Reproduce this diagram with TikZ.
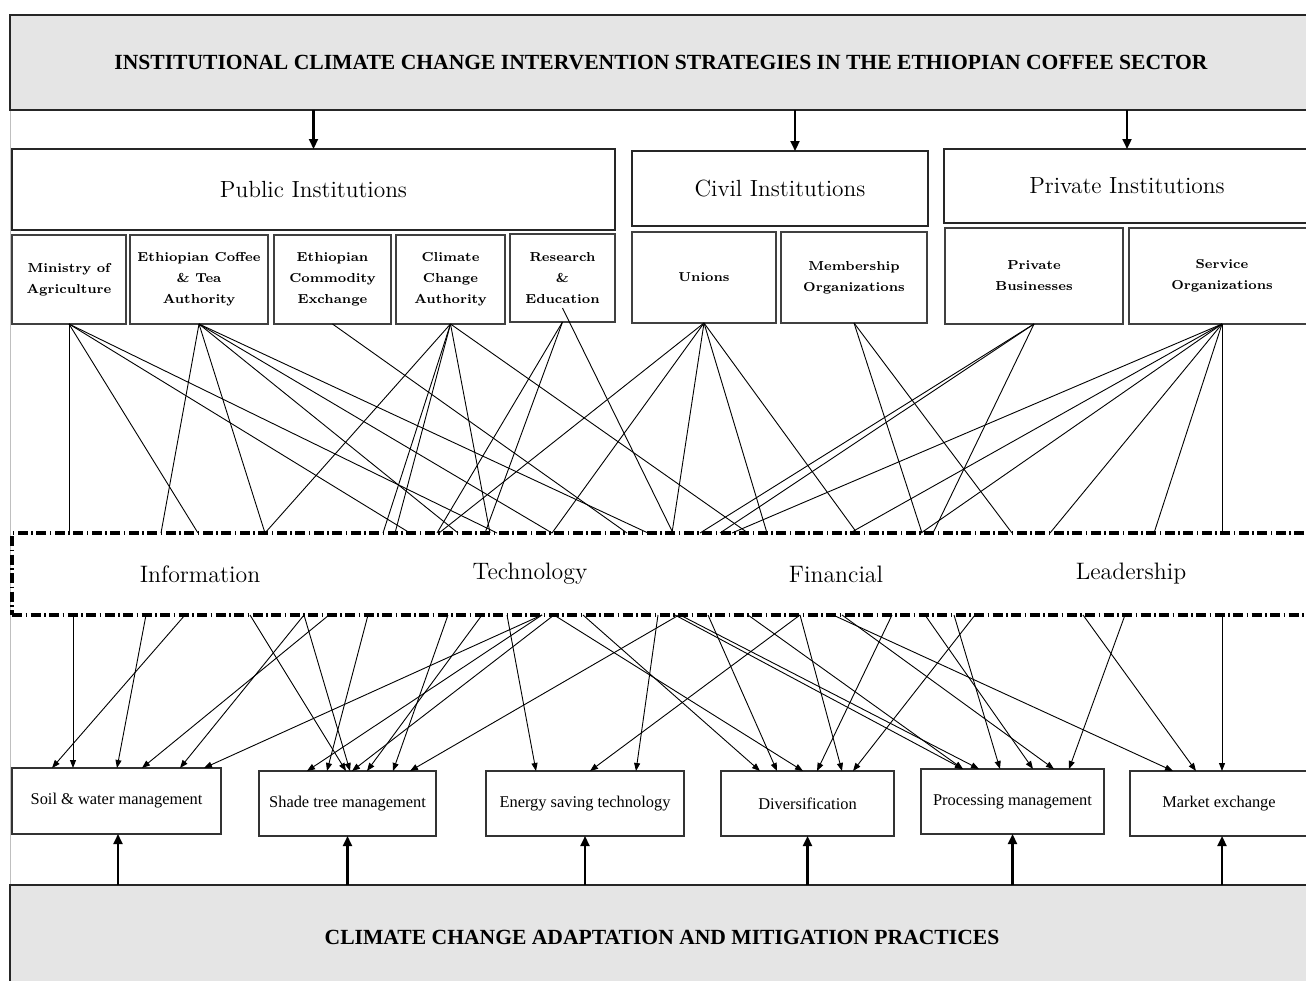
\documentclass[tikz,border=0pt]{standalone}
\usepackage{fontspec}
\newfontfamily\timesfont{Liberation Serif}
\usetikzlibrary{arrows.meta}
\definecolor{panelgray}{RGB}{229,229,229}

\tikzstyle{panel} = [draw=black!85, line width=1.2pt, fill=panelgray, inner sep=0pt, outer sep=0pt, font=\timesfont\bfseries\fontsize{10.8}{12}\selectfont]
\tikzstyle{group} = [draw=black!85, line width=1pt, inner sep=0pt, outer sep=0pt, font=\fontsize{11.7}{13}\selectfont]
\tikzstyle{actor} = [draw=black!75, line width=0.7pt, minimum height=44.5pt, inner sep=0pt, outer sep=0pt, align=center, font=\bfseries\fontsize{6.5}{10.5}\selectfont]
\tikzstyle{practice} = [draw=black!80, line width=0.7pt, minimum height=32.5pt, inner sep=0pt, outer sep=0pt, font=\timesfont\fontsize{8.2}{10}\selectfont]
\tikzstyle{ribbon} = [draw, line width=2pt, inner sep=0pt, outer sep=0pt, dash pattern=on 5pt off 1.75pt on 0.75pt off 1.75pt]
\tikzstyle{theme} = [font=\fontsize{11.9}{13}\selectfont]
\tikzstyle{wire} = [line width=0.45pt]
\tikzstyle{pointer} = [line width=0.45pt, -{Triangle[length=4pt,width=3pt]}]
\tikzstyle{bigarrow} = [line width=1.1pt, -{Triangle[length=5pt,width=4.5pt]}]

\begin{document}
\begin{tikzpicture}[x=0.5pt, y=-0.5pt]
            \useasboundingbox (0,0) rectangle (1306,980);
            \clip (0,0) rectangle (1306,980);
            \draw[gray!50, line width=0.5pt] (10,15) -- (10,980);

            % top and bottom panels
            \node[panel, minimum width=651pt, minimum height=47.5pt]   (title)   at (661, 62.5)  {INSTITUTIONAL CLIMATE CHANGE INTERVENTION STRATEGIES IN THE ETHIOPIAN COFFEE SECTOR};
            \node[panel, minimum width=652pt, minimum height=52.5pt]   (adapt)   at (662, 937.5) {CLIMATE CHANGE ADAPTATION AND MITIGATION PRACTICES};

            % institution groups
            \node[group, minimum width=301.5pt, minimum height=40.5pt] (public)  at (313.5, 189.5) {Public Institutions};
            \node[group, minimum width=148pt, minimum height=37.5pt]   (civil)   at (780, 188.5)   {Civil Institutions};
            \node[group, minimum width=183pt, minimum height=37pt]     (private) at (1127, 186)    {Private Institutions};

            % institutions
            \node[actor, minimum width=57pt]                       (moa)      at (69, 279.5)    {Ministry of\\Agriculture};
            \node[actor, minimum width=69pt]                       (ecta)     at (199, 279.5)   {Ethiopian Coffee\\\& Tea\\Authority};
            \node[actor, minimum width=58.5pt]                     (ecx)      at (332.5, 279.5) {Ethiopian\\Commodity\\Exchange};
            \node[actor, minimum width=54.5pt]                     (cca)      at (450.5, 279.5) {Climate\\Change\\Authority};
            \node[actor, minimum width=52.5pt, minimum height=44pt] (res)     at (562.5, 278)   {Research\\\&\\Education};
            \node[actor, minimum width=72pt, minimum height=45.5pt] (unions)  at (704, 277.5)   {Unions};
            \node[actor, minimum width=73pt, minimum height=45.5pt] (member)  at (854, 277.5)   {Membership\\Organizations};
            \node[actor, minimum width=89pt, minimum height=48pt]   (business) at (1034, 276)   {Private\\Businesses};
            \node[actor, minimum width=93pt, minimum height=48pt]   (service) at (1222, 276)    {Service\\Organizations};

            % strategies
            \node[ribbon, minimum width=654pt, minimum height=41pt] (band) at (666, 574) {};
            \node[theme] (info) at (200, 574)  {Information};
            \node[theme] (tech) at (530, 574)  {Technology};
            \node[theme] (fin)  at (836, 574)  {Financial};
            \node[theme] (lead) at (1131, 574) {Leadership};

            % practices
            \node[practice, minimum width=104.5pt, minimum height=33pt] (soil) at (116.5, 801) {Soil \& water management};
            \node[practice, minimum width=88.5pt]  (shade)   at (347.5, 803.5)  {Shade tree management};
            \node[practice, minimum width=99pt]    (energy)  at (585, 803.5)    {Energy saving technology};
            \node[practice, minimum width=86.5pt]  (divers)  at (807.5, 803.5)  {Diversification};
            \node[practice, minimum width=91.5pt]  (process) at (1012.5, 801.5) {Processing management};
            \node[practice, minimum width=89pt]    (market)  at (1219, 803.5)   {Market exchange};

            \draw[bigarrow] (title.south -| public.north) -- (public.north);
            \draw[bigarrow] (title.south -| 795,0) -- (civil.north -| 795,0);
            \draw[bigarrow] (title.south -| private.north) -- (private.north);

            \draw[bigarrow] (adapt.north -| 118,0) -- (soil.south -| 118,0);
            \draw[bigarrow] (adapt.north -| shade.south) -- (shade.south);
            \draw[bigarrow] (adapt.north -| energy.south) -- (energy.south);
            \draw[bigarrow] (adapt.north -| divers.south) -- (divers.south);
            \draw[bigarrow] (adapt.north -| process.south) -- (process.south);
            \draw[bigarrow] (adapt.north -| service.south) -- (market.south -| service.south);

            % institutions to strategies
            \draw[wire] (moa.south) -- (band.north -| 69,0);
            \draw[wire] (moa.south) -- (band.north -| 198,0);
            \draw[wire] (moa.south) -- (band.north -| 410,0);
            \draw[wire] (moa.south) -- (band.north -| 497,0);
            \draw[wire] (ecta.south) -- (band.north -| 161,0);
            \draw[wire] (ecta.south) -- (band.north -| 265,0);
            \draw[wire] (ecta.south) -- (band.north -| 458,0);
            \draw[wire] (ecta.south) -- (band.north -| 552,0);
            \draw[wire] (ecta.south) -- (band.north -| 648,0);
            \draw[wire] (ecx.south) -- (band.north -| 627,0);
            \draw[wire] (cca.south) -- (band.north -| 265,0);
            \draw[wire] (cca.south) -- (band.north -| 383,0);
            \draw[wire] (cca.south) -- (band.north -| 395,0);
            \draw[wire] (cca.south) -- (band.north -| 490,0);
            \draw[wire] (cca.south) -- (band.north -| 748,0);
            \draw[wire] (res.south) -- (band.north -| 437,0);
            \draw[wire] (res.south) -- (band.north -| 485,0);
            \draw[wire] ([yshift=7pt]res.south) -- (band.north -| 673,0);
            \draw[wire] (unions.south) -- (band.north -| 439,0);
            \draw[wire] (unions.south) -- (band.north -| 552,0);
            \draw[wire] (unions.south) -- (band.north -| 672,0);
            \draw[wire] (unions.south) -- (band.north -| 767,0);
            \draw[wire] (unions.south) -- (band.north -| 857,0);
            \draw[wire] (member.south) -- (band.north -| 922,0);
            \draw[wire] (member.south) -- (band.north -| 1012,0);
            \draw[wire] (business.south) -- (band.north -| 700,0);
            \draw[wire] (business.south) -- (band.north -| 720,0);
            \draw[wire] (business.south) -- (band.north -| 933,0);
            \draw[wire] (service.south) -- (band.north -| 732,0);
            \draw[wire] (service.south) -- (band.north -| 850,0);
            \draw[wire] (service.south) -- (band.north -| 921,0);
            \draw[wire] (service.south) -- (band.north -| 1050,0);
            \draw[wire] (service.south) -- (band.north -| 1154,0);
            \draw[wire] (service.south) -- (band.north -| 1222,0);

            % strategies to practices
            \draw[pointer] (band.south -| 73,0)   -- (soil.north -| 73,0);
            \draw[pointer] (band.south -| 146,0)  -- (soil.north -| 117,0);
            \draw[pointer] (band.south -| 185,0)  -- (soil.north -| 52,0);
            \draw[pointer] (band.south -| 304,0)  -- (soil.north -| 180,0);
            \draw[pointer] (band.south -| 329,0)  -- (soil.north -| 142,0);
            \draw[pointer] (band.south -| 542,0)  -- (soil.north -| 204,0);
            \draw[pointer] (band.south -| 250,0)  -- (shade.north -| 346,0);
            \draw[pointer] (band.south -| 304,0)  -- (shade.north -| 350,0);
            \draw[pointer] (band.south -| 368,0)  -- (shade.north -| 327,0);
            \draw[pointer] (band.south -| 448,0)  -- (shade.north -| 393,0);
            \draw[pointer] (band.south -| 482,0)  -- (shade.north -| 367,0);
            \draw[pointer] (band.south -| 542,0)  -- (shade.north -| 307,0);
            \draw[pointer] (band.south -| 554,0)  -- (shade.north -| 352,0);
            \draw[pointer] (band.south -| 679,0)  -- (shade.north -| 410,0);
            \draw[pointer] (band.south -| 507,0)  -- (energy.north -| 536,0);
            \draw[pointer] (band.south -| 800,0)  -- (energy.north -| 590,0);
            \draw[pointer] (band.south -| 658,0)  -- (energy.north -| 636,0);
            \draw[pointer] (band.south -| 583,0)  -- (divers.north -| 760,0);
            \draw[pointer] (band.south -| 708,0)  -- (divers.north -| 777,0);
            \draw[pointer] (band.south -| 554,0)  -- (divers.north -| 803,0);
            \draw[pointer] (band.south -| 892,0)  -- (divers.north -| 817,0);
            \draw[pointer] (band.south -| 800,0)  -- (divers.north -| 842,0);
            \draw[pointer] (band.south -| 975,0)  -- (divers.north -| 853,0);
            \draw[pointer] (band.south -| 675,0)  -- (process.north -| 963,0);
            \draw[pointer] (band.south -| 748,0)  -- (process.north -| 963,0);
            \draw[pointer] (band.south -| 680,0)  -- (process.north -| 979,0);
            \draw[pointer] (band.south -| 954,0)  -- (process.north -| 1000,0);
            \draw[pointer] (band.south -| 925,0)  -- (process.north -| 1033,0);
            \draw[pointer] (band.south -| 842,0)  -- (process.north -| 1054,0);
            \draw[pointer] (band.south -| 1125,0) -- (process.north -| 1069,0);
            \draw[pointer] (band.south -| 833,0)  -- (market.north -| 1173,0);
            \draw[pointer] (band.south -| 1083,0) -- (market.north -| 1196,0);
            \draw[pointer] (band.south -| 1222,0) -- (market.north -| 1222,0);
        \end{tikzpicture}
\end{document}
